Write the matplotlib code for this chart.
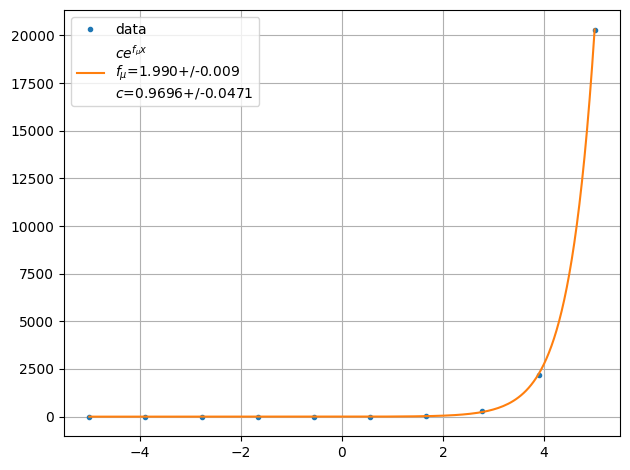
import numpy as np
import matplotlib.pyplot as plt

# observed samples
x_data = [-5.0, -3.889, -2.778, -1.667, -0.556, 0.556, 1.667, 2.778, 3.889, 5.0]
y_data = [0.0, 0.001, 0.004, 0.04, 0.3, 3.0, 28.0, 300.0, 2190.0, 20300.0]

# fitted parameters (value, error)
f_mu, f_mu_err = 1.990, 0.009
c, c_err = 0.9696, 0.0471


def model(x):
    return c * np.exp(f_mu * x)


fig, ax = plt.subplots(figsize=(6.3, 4.7), dpi=100)

ax.plot(x_data, y_data, '.', label='data')

x_fit = np.linspace(min(x_data), max(x_data), 200)
label = ('$ce^{f_\\mu x}$\n'
         '$f_\\mu$=%.3f+/-%.3f\n'
         '$c$=%.4f+/-%.4f' % (f_mu, f_mu_err, c, c_err))
ax.plot(x_fit, model(x_fit), label=label)

ax.grid(True)
ax.legend(loc='upper left')

fig.subplots_adjust(left=0.1016, right=0.984, bottom=0.0723, top=0.9787)
plt.savefig('out.png')
